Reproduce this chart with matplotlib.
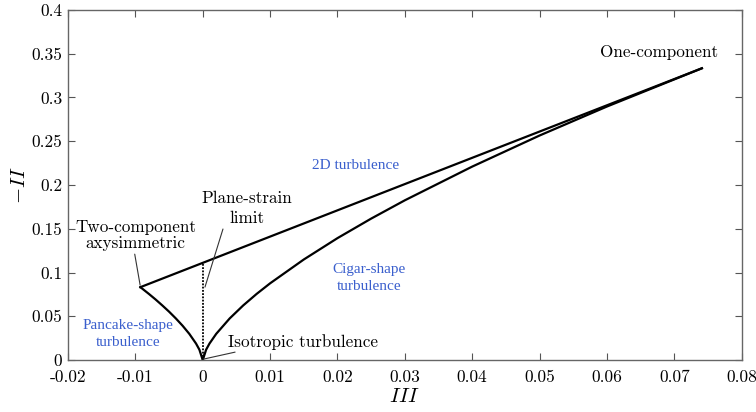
import matplotlib
matplotlib.use("Agg")
import matplotlib.pyplot as plt
from matplotlib.ticker import FuncFormatter

plt.rcParams['font.family'] = 'serif'
plt.rcParams['font.serif'] = ['cmr10', 'DejaVu Serif']
plt.rcParams['mathtext.fontset'] = 'cm'
plt.rcParams['axes.unicode_minus'] = False
plt.rcParams['axes.formatter.use_mathtext'] = True

# Lumley triangle boundaries
cigar_III = [0.0, 0.0005, 0.001, 0.002, 0.004, 0.006, 0.008, 0.01, 0.015,
             0.02, 0.025, 0.03, 0.04, 0.05, 0.06, 0.0741]
cigar_II = [0.0, 0.0119, 0.0189, 0.0300, 0.0476, 0.0624, 0.0756, 0.0877,
            0.1149, 0.1393, 0.1616, 0.1825, 0.2210, 0.2565, 0.2896, 0.3333]

pancake_III = [0.0, -0.0005, -0.001, -0.002, -0.003, -0.004, -0.005,
               -0.006, -0.007, -0.008, -0.00926]
pancake_II = [0.0, 0.0119, 0.0189, 0.0300, 0.0393, 0.0476, 0.0553,
              0.0624, 0.0692, 0.0756, 0.0833]

twocomp_III = [-0.00926, 0.0741]
twocomp_II = [0.0833, 0.3333]

plane_III = [0.0, 0.0]
plane_II = [0.0, 0.111]

fig = plt.figure(figsize=(7.56, 4.12), dpi=100)
ax = fig.add_axes([0.090, 0.126, 0.891, 0.850])

ax.plot(cigar_III, cigar_II, color='black', lw=1.6)
ax.plot(pancake_III, pancake_II, color='black', lw=1.6)
ax.plot(twocomp_III, twocomp_II, color='black', lw=1.6)
ax.plot(plane_III, plane_II, color='black', lw=1.3, linestyle=(0, (1, 0.8)))

ax.set_xlim(-0.02, 0.08)
ax.set_ylim(0, 0.4)
ax.set_xticks([-0.02, -0.01, 0, 0.01, 0.02, 0.03, 0.04, 0.05, 0.06, 0.07, 0.08])
ax.set_yticks([0, 0.05, 0.1, 0.15, 0.2, 0.25, 0.3, 0.35, 0.4])
fmt = FuncFormatter(lambda v, p: '%g' % round(v, 4))
ax.xaxis.set_major_formatter(fmt)
ax.yaxis.set_major_formatter(fmt)
ax.tick_params(direction='in', top=True, right=True, length=5,
               color='#555555', labelsize=12.5)
ax.tick_params(axis='x', pad=7)
ax.tick_params(axis='y', pad=4)
for s in ax.spines.values():
    s.set_color('#666666')
    s.set_linewidth(1.0)

ax.set_xlabel('$III$', fontsize=15, labelpad=2)
ax.set_ylabel('$-II$', fontsize=15, labelpad=2)

blue = '#3a5fcd'
ax.text(0.0678, 0.352, 'One-component', fontsize=12.3, ha='center', va='center')
ax.text(0.0227, 0.222, '2D turbulence', fontsize=11, color=blue,
        ha='center', va='center', family='Liberation Serif')
ax.text(0.0247, 0.094, 'Cigar-shape\nturbulence', fontsize=11, color=blue,
        ha='center', va='center', family='Liberation Serif', linespacing=1.45)
ax.text(-0.0111, 0.030, 'Pancake-shape\nturbulence', fontsize=11, color=blue,
        ha='center', va='center', family='Liberation Serif', linespacing=1.45)

ax.text(0.0066, 0.173, 'Plane-strain\nlimit', fontsize=12.3, ha='center',
        va='center', linespacing=1.35)
ax.text(-0.0100, 0.143, 'Two-component\naxysimmetric', fontsize=12.3,
        ha='center', va='center', linespacing=1.05)
ax.text(0.0149, 0.0206, 'Isotropic turbulence', fontsize=12.3,
        ha='center', va='center')

# leader lines
line = dict(arrowstyle='-', color='#333333', lw=0.8, shrinkA=0, shrinkB=0)
ax.annotate('', xy=(0.00033, 0.0834), xytext=(0.0030, 0.1497), arrowprops=line)
ax.annotate('', xy=(-0.0093, 0.0857), xytext=(-0.0101, 0.121), arrowprops=line)
ax.annotate('', xy=(0.0001, 0.0011), xytext=(0.0048, 0.0091), arrowprops=line)

fig.savefig('out.png', dpi=100)
